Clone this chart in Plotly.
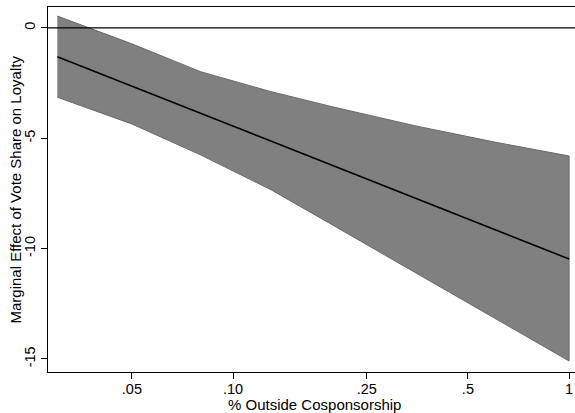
import plotly.graph_objects as go

# Data
outside_share = [0.03, 0.05, 0.08, 0.13, 0.2, 0.35, 0.6, 1.0]
effect = [-1.30, -2.64, -3.86, -5.14, -6.26, -7.72, -9.13, -10.47]
upper_ci = [0.54, -0.72, -1.98, -2.89, -3.59, -4.44, -5.17, -5.80]
lower_ci = [-3.14, -4.35, -5.75, -7.34, -8.97, -11.1, -13.16, -15.09]

x_tickvals = [0.05, 0.10, 0.25, 0.5, 1.0]
x_ticktext = [".05", ".10", ".25", ".5", "1"]
y_tickvals = [0, -5, -10, -15]
y_ticktext = ["0", "-5", "-10", "-15"]

font_family = "Liberation Sans, Arial, sans-serif"

fig = go.Figure()
fig.add_trace(go.Scatter(
    x=outside_share + outside_share[::-1],
    y=upper_ci + lower_ci[::-1],
    fill="toself", fillcolor="#808080",
    line=dict(color="#6a6a6a", width=1),
    mode="lines", hoverinfo="skip", showlegend=False,
))
fig.add_trace(go.Scatter(
    x=outside_share, y=effect, mode="lines",
    line=dict(color="black", width=1.6), showlegend=False,
))

fig.add_shape(type="line", xref="paper", x0=0, x1=1, yref="y", y0=0, y1=0,
              line=dict(color="black", width=1.2))

fig.add_annotation(text="% Outside Cosponsorship", xref="paper", yref="paper",
                   x=0.506, y=0, yshift=-32, xanchor="center", yanchor="middle",
                   showarrow=False, borderpad=0, font=dict(size=15))
fig.add_annotation(text="Marginal Effect of Vote Share on Loyalty", xref="paper", yref="paper",
                   x=0, xshift=-33, y=0.5, xanchor="center", yanchor="middle",
                   textangle=-90, showarrow=False, font=dict(size=15))

fig.update_layout(
    width=575, height=413,
    margin=dict(l=48, r=0, t=7, b=41),
    paper_bgcolor="white", plot_bgcolor="white",
    font=dict(family=font_family, size=15, color="black"),
    xaxis=dict(
        type="log", range=[-1.5506, 0.0176], automargin=False,
        tickvals=x_tickvals, ticktext=x_ticktext,
        ticks="outside", ticklen=6, tickcolor="black", tickwidth=1,
        showline=True, linecolor="black", linewidth=1, mirror=True,
        showgrid=False, zeroline=False, ticklabelstandoff=-2,
        tickfont=dict(size=14.5),
    ),
    yaxis=dict(
        range=[-15.59, 0.95], automargin=False,
        tickvals=y_tickvals, ticktext=y_ticktext, tickangle=-90,
        ticks="outside", ticklen=6, tickcolor="black", tickwidth=1,
        showline=True, linecolor="black", linewidth=1,
        showgrid=False, zeroline=False,
        tickfont=dict(size=14.5),
    ),
)

fig.write_html(
    "out.html",
    config={"displayModeBar": False},
    post_script="document.body.style.margin='0';document.body.style.overflow='hidden';",
)
